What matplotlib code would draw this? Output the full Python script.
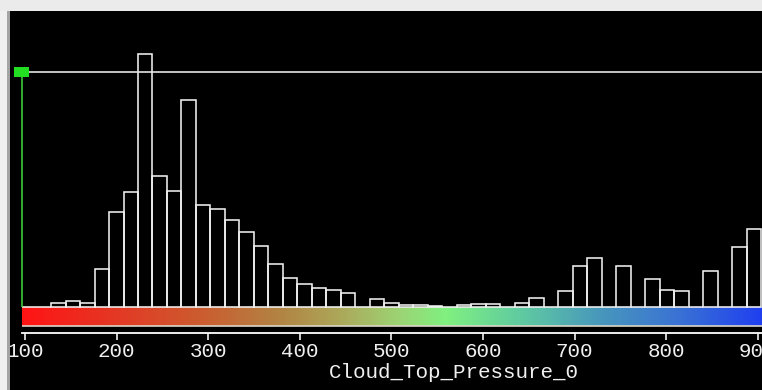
import numpy as np
import matplotlib
matplotlib.use('Agg')
import matplotlib.pyplot as plt
import matplotlib.patches as mpatches
from matplotlib.colors import LinearSegmentedColormap

plt.rcParams['font.family'] = 'Liberation Mono'

# ── Data ──────────────────────────────────────────────────────────────────────
x_label = 'Cloud_Top_Pressure_0'

# histogram: first bin edge, bin width and counts (arbitrary units)
bin_start = 96.8
bin_width = 15.82
counts = [0, 0, 4, 6.5, 4.3, 38, 94.6, 114.6, 253, 131,
          116, 207, 102, 98, 87, 75, 61, 43, 29, 23,
          19, 17, 14, 0, 8, 4.3, 2.5, 2.5, 1, 0,
          1.8, 2.8, 2.8, 0, 4.5, 9, 0, 15.6, 41, 49,
          0, 41, 0, 28, 17, 15.6, 0, 35.6, 0, 60,
          78]

tick_values = [100, 200, 300, 400, 500, 600, 700, 800, 900, 1000]

# selection marker (value, level)
marker_value = 96.3
marker_level = 235

# colour scale under the histogram
cmap_values = [96.8, 182, 291, 378, 444, 509, 560, 640, 728, 815, 905]
cmap_colors = ['#FF1414', '#E83222', '#CC5C30', '#B28444', '#ACA85A', '#9CD474',
               '#80F080', '#60CCA0', '#4898BC', '#3A72D4', '#2040F0']

# ── Figure ────────────────────────────────────────────────────────────────────
W, H = 762, 390
PX = 0.916                      # pixels per pressure unit
x_lo = 100 - 15 / PX
x_hi = 100 + 737 / PX

fig = plt.figure(figsize=(W / 100, H / 100), dpi=100, facecolor='#EBEBEB')
ax = fig.add_axes([10 / W, 0, 1 - 10 / W, 379 / H], facecolor='black')

# colour bar
span = x_hi + 30 - bin_start
pos = [(v - bin_start) / span for v in cmap_values] + [1.0]
cmap = LinearSegmentedColormap.from_list('bar', list(zip(pos, cmap_colors + [cmap_colors[-1]])))
grad = np.linspace(0, 1, 800)[None, :]
ax.imshow(grad, cmap=cmap, vmin=0, vmax=1, aspect='auto', interpolation='bilinear',
          extent=[bin_start, x_hi + 30, -19, -0.5], zorder=1)
ax.hlines(-19.3, bin_start, x_hi + 30, color='#DCD6C8', linewidth=1.2, zorder=2)

# histogram outline
lefts = bin_start + bin_width * np.arange(len(counts))
ax.bar(lefts, counts, width=bin_width, align='edge', facecolor='none',
       edgecolor='#F0F0F0', linewidth=1.15, zorder=3)

# marker
ax.vlines(marker_value, 0, marker_level, color='#3CC83C', linewidth=1.2, zorder=4)
ax.hlines(marker_level, marker_value, x_hi + 30, color='#E4E4E4', linewidth=1.2, zorder=4)
ax.add_patch(mpatches.Rectangle((marker_value - 7.5 / PX, marker_level - 4.8),
                                15 / PX, 9.6, facecolor='#22DD22',
                                edgecolor='none', zorder=5))

# axis
for s in ['top', 'right', 'left']:
    ax.spines[s].set_visible(False)
ax.spines['bottom'].set_position(('data', -26))
ax.spines['bottom'].set_bounds(bin_start, x_hi + 30)
ax.spines['bottom'].set_color('white')
ax.spines['bottom'].set_linewidth(1.3)
ax.set_yticks([])
ax.set_xticks(tick_values)
ax.tick_params(axis='x', direction='out', length=5, width=1.2,
               colors='#F0F0F0', labelsize=15, pad=1.5)
ax.set_xlabel(x_label, color='#F0F0F0', fontsize=15)
ax.xaxis.set_label_coords((454 - 10) / 752, (390 - 363) / 379)

ax.set_xlim(x_lo, x_hi)
ax.set_ylim(-83, 296)

# left window border
fig.add_artist(mpatches.Rectangle((0, 0), 7 / W, 379 / H, transform=fig.transFigure,
                                  facecolor='#F0F0F0', edgecolor='none', zorder=10))
fig.add_artist(mpatches.Rectangle((7 / W, 0), 2.5 / W, 379 / H, transform=fig.transFigure,
                                  facecolor='#A4A4A4', edgecolor='none', zorder=10))

fig.savefig('out.png', dpi=100, facecolor=fig.get_facecolor())
